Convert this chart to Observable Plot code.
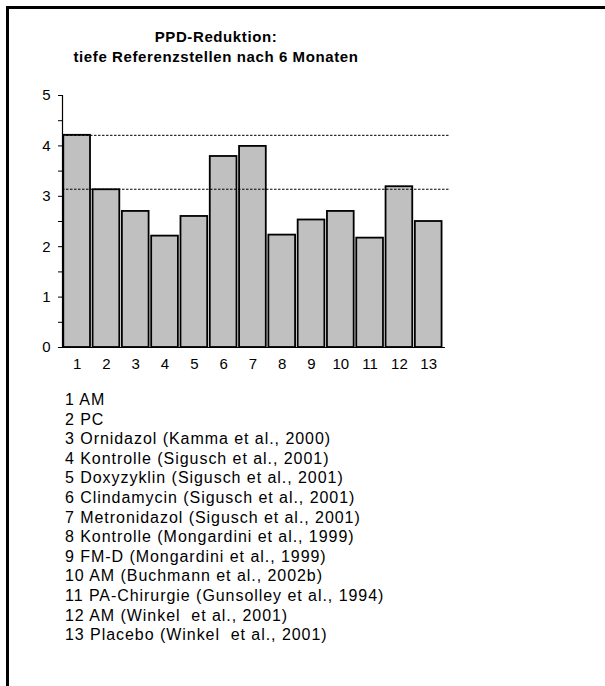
<!DOCTYPE html>
<html>
<head>
<meta charset="utf-8">
<script src="https://cdn.jsdelivr.net/npm/d3@7"></script>
<script src="https://cdn.jsdelivr.net/npm/@observablehq/plot@0.6"></script>
<style>
  html, body { margin: 0; padding: 0; background: #fff; }
  #wrap { position: relative; width: 605px; height: 686px; overflow: hidden; font-family: "Liberation Sans", Arial, sans-serif; color: #000; }
  #frame { position: absolute; left: 6px; top: 6px; width: 700px; height: 800px; border-left: 3px solid #000; border-top: 3px solid #000; }
  #title { position: absolute; left: 0; top: 27px; width: 432px; text-align: center; font-weight: bold; font-size: 15px; line-height: 20px; letter-spacing: 0.6px; }
  #chart { position: absolute; left: 0; top: 0; }
  #legend { position: absolute; left: 65px; top: 390px; font-size: 16px; line-height: 19.6px; letter-spacing: 0.95px; white-space: nowrap; }
</style>
</head>
<body>
<div id="wrap">
  <div id="frame"></div>
  <div id="chart"></div>
  <div id="title"></div>
  <div id="legend"></div>
</div>
<script>
const titleLines = ["PPD-Reduktion:", "tiefe Referenzstellen nach 6 Monaten"];
const categories = ["1","2","3","4","5","6","7","8","9","10","11","12","13"];
const values = [4.21, 3.13, 2.70, 2.21, 2.60, 3.79, 3.99, 2.23, 2.53, 2.70, 2.17, 3.19, 2.50];
const referenceLines = [4.21, 3.14];
const yTicks = [0, 1, 2, 3, 4, 5];
const yMinorTicks = [0.5, 1.5, 2.5, 3.5, 4.5];
const legendLabels = [
  "1 AM",
  "2 PC",
  "3 Ornidazol (Kamma et al., 2000)",
  "4 Kontrolle (Sigusch et al., 2001)",
  "5 Doxyzyklin (Sigusch et al., 2001)",
  "6 Clindamycin (Sigusch et al., 2001)",
  "7 Metronidazol (Sigusch et al., 2001)",
  "8 Kontrolle (Mongardini et al., 1999)",
  "9 FM-D (Mongardini et al., 1999)",
  "10 AM (Buchmann et al., 2002b)",
  "11 PA-Chirurgie (Gunsolley et al., 1994)",
  "12 AM (Winkel  et al., 2001)",
  "13 Placebo (Winkel  et al., 2001)"
];

const half = 0.456;
const rows = categories.map((c, i) => ({cat: c, pos: i + 1, x1: i + 1 - half, x2: i + 1 + half, value: values[i]}));
const xStart = 0.5, xAxisEnd = 13.57, xEnd = 13.71;
const yMax = yTicks[yTicks.length - 1];

const chart = Plot.plot({
  width: 605,
  height: 390,
  marginTop: 95,
  marginBottom: 43,
  marginLeft: 62,
  marginRight: 156,
  style: {fontFamily: '"Liberation Sans", Arial, sans-serif', fontSize: "15px", color: "#000", background: "transparent", overflow: "visible"},
  x: {type: "linear", domain: [xStart, xEnd], label: null},
  y: {domain: [0, yMax], label: null},
  marks: [
    Plot.rectY(rows, {x1: "x1", x2: "x2", y: "value", fill: "#c0c0c0", stroke: "#000", strokeWidth: 1.8}),
    Plot.ruleY(referenceLines, {y: d => d, x1: xStart, x2: xEnd, stroke: "#000", strokeWidth: 1, strokeDasharray: "2.5,1.5"}),
    Plot.ruleY([0], {y: d => d, x1: xStart, x2: xAxisEnd, stroke: "#000", strokeWidth: 1.2}),
    Plot.ruleX([xStart], {x: d => d, y1: 0, y2: yMax, stroke: "#000", strokeWidth: 1.2}),
    Plot.axisY({ticks: yTicks, tickSize: 4, tickPadding: 8, tickFormat: d => String(d), stroke: "#000"}),
    Plot.axisY({ticks: yMinorTicks, tickSize: 4, tickFormat: () => "", stroke: "#000"}),
    Plot.axisX({ticks: rows.map(r => r.pos), tickSize: 0, tickPadding: 11, tickFormat: d => categories[d - 1]})
  ]
});
document.getElementById("chart").appendChild(chart);

const t = document.getElementById("title");
titleLines.forEach(s => { const d = document.createElement("div"); d.textContent = s; t.appendChild(d); });
const lg = document.getElementById("legend");
legendLabels.forEach(s => { const d = document.createElement("div"); d.textContent = s; d.style.whiteSpace = "pre"; lg.appendChild(d); });
</script>
</body>
</html>
